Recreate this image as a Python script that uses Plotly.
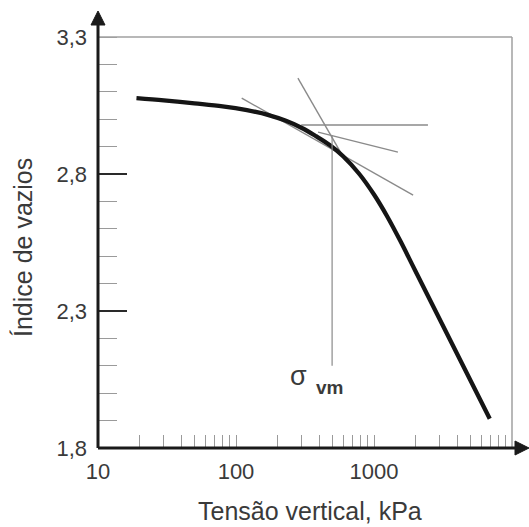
import plotly.graph_objects as go

# ---- data ----
stress_kpa = [19, 30, 50, 80, 120, 170, 230, 300, 380, 480, 600, 780, 1000, 1250, 1550, 2000, 6900]
void_ratio = [3.077, 3.069, 3.058, 3.047, 3.033, 3.016, 2.994, 2.968, 2.938, 2.905, 2.864, 2.801, 2.725, 2.644, 2.556, 2.445, 1.907]

horiz_x = [297, 2460]
horiz_y = [2.979, 2.979]
tangent_x = [110, 1920]
tangent_y = [3.077, 2.723]
bisector_x = [393, 1490]
bisector_y = [2.953, 2.880]
virgin_ext_x = [281, 617]
virgin_ext_y = [3.150, 2.851]
sigma_vm = 497
vertical_y = [2.94, 2.10]

x_tickvals = [10, 100, 1000, 10000]
x_ticktext = ["10", "100", "1000", ""]
y_tickvals = [1.8, 2.3, 2.8, 3.3]
y_ticktext = ["1,8", "2,3", "2,8", "3,3"]
y_major_marks = [2.3, 2.8]

FONT = "Liberation Sans, Arial, sans-serif"
thin = dict(color="#8a8a8a", width=1.4)

fig = go.Figure()
for xs, ys in [(horiz_x, horiz_y), (tangent_x, tangent_y), (bisector_x, bisector_y), (virgin_ext_x, virgin_ext_y)]:
    fig.add_trace(go.Scatter(x=xs, y=ys, mode="lines", line=thin, hoverinfo="skip", showlegend=False))
fig.add_trace(go.Scatter(x=[sigma_vm, sigma_vm], y=vertical_y, mode="lines", yaxis="y2",
                         line=dict(color="#8a8a8a", width=1.2), showlegend=False))
fig.add_trace(go.Scatter(x=stress_kpa, y=void_ratio, mode="lines",
                         line=dict(color="#151515", width=4.3, shape="spline", smoothing=1.0),
                         showlegend=False))

L, R, T, B = 98, 17, 37, 79
W, H = 529, 527
pw, ph = W - L - R, H - T - B

def px(xp):
    return (xp - L) / pw

def py(yp):
    return (H - B - yp) / ph

fig.update_layout(
    width=W, height=H,
    margin=dict(l=L, r=R, t=T, b=B),
    paper_bgcolor="white", plot_bgcolor="white",
    separators=",.",
    showlegend=False,
    xaxis=dict(type="log", range=[1, 4], showgrid=False, zeroline=False, showline=False,
               tickmode="array", tickvals=x_tickvals, ticktext=x_ticktext,
               ticks="inside", ticklen=13, tickwidth=1, tickcolor="#9a9a9a",
               ticklabelstandoff=8,
               minor=dict(ticks="inside", ticklen=13, tickwidth=1, tickcolor="#9a9a9a", dtick="D1", showgrid=False),
               tickfont=dict(family=FONT, size=22, color="#3a3a3a")),
    yaxis=dict(range=[1.8, 3.3], showgrid=False, zeroline=False, showline=False,
               tickmode="array", tickvals=y_tickvals, ticktext=y_ticktext,
               ticks="", ticklabelstandoff=10,
               minor=dict(ticks="inside", ticklen=19, tickwidth=1, tickcolor="#9a9a9a", dtick=0.1, showgrid=False),
               tickfont=dict(family=FONT, size=22, color="#3a3a3a")),
    yaxis2=dict(range=[1.8, 3.3], overlaying="y", side="left", showgrid=False, zeroline=False,
                showline=False, tickmode="array", tickvals=y_major_marks, showticklabels=False,
                ticks="inside", ticklen=29, tickwidth=2.4, tickcolor="#2a2a2a"),
)

# frame (top and right, gray)
fig.add_shape(type="line", xref="paper", yref="paper", x0=0, x1=1, y0=1, y1=1,
              line=dict(color="#a0a0a0", width=1.5), layer="above")
fig.add_shape(type="line", xref="paper", yref="paper", x0=1, x1=1, y0=0, y1=1,
              line=dict(color="#a0a0a0", width=1.5), layer="above")
# axes with arrows
fig.add_shape(type="line", xref="paper", yref="paper", x0=0, x1=px(520), y0=0, y1=0,
              line=dict(color="#1a1a1a", width=3), layer="above")
fig.add_shape(type="line", xref="paper", yref="paper", x0=0, x1=0, y0=0, y1=py(20),
              line=dict(color="#1a1a1a", width=3), layer="above")
fig.add_shape(type="path", xref="paper", yref="paper",
              path=f"M {px(91)} {py(25)} L {px(98)} {py(11)} L {px(105)} {py(25)} Z",
              fillcolor="#1a1a1a", line=dict(color="#1a1a1a", width=1), layer="above")
fig.add_shape(type="path", xref="paper", yref="paper",
              path=f"M {px(515)} {py(441)} L {px(529)} {py(448)} L {px(515)} {py(455)} Z",
              fillcolor="#1a1a1a", line=dict(color="#1a1a1a", width=1), layer="above")

# labels
fig.add_annotation(x=px(310), y=py(511), xref="paper", yref="paper", text="Tensão vertical, kPa",
                   showarrow=False, xanchor="center", yanchor="middle",
                   font=dict(family=FONT, size=25, color="#3a3a3a"))
fig.add_annotation(x=px(23), y=py(248), xref="paper", yref="paper", text="Índice de vazios",
                   showarrow=False, textangle=-90, xanchor="center", yanchor="middle",
                   font=dict(family=FONT, size=25, color="#3a3a3a"))
fig.add_annotation(x=px(298), y=py(376), xref="paper", yref="paper", text="σ",
                   showarrow=False, xanchor="center", yanchor="middle",
                   font=dict(family=FONT, size=27, color="#3a3a3a"))
fig.add_annotation(x=px(329), y=py(387), xref="paper", yref="paper", text="<b>vm</b>",
                   showarrow=False, xanchor="center", yanchor="middle",
                   font=dict(family=FONT, size=19, color="#3a3a3a"))

fig.write_html("out.html", config={"displayModeBar": False},
               post_script="document.body.style.margin='0px';document.body.style.overflow='hidden';")
